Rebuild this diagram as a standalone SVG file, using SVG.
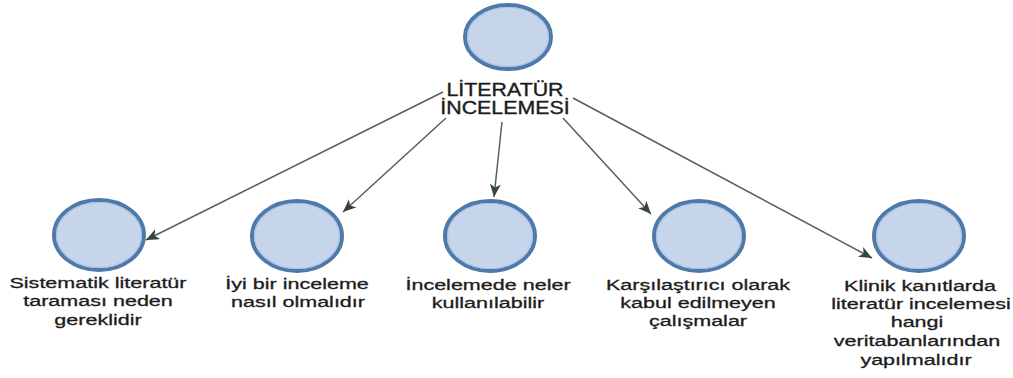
<svg xmlns="http://www.w3.org/2000/svg" width="1013" height="378" viewBox="0 0 1013 378">
<defs>
<style>
.node ellipse.o{fill:#c7d5ea;stroke:#4f79a8;stroke-width:4}
.node ellipse.i{fill:none;stroke:#a9c3e6;stroke-width:1.2}
.lbl{font-family:"Liberation Sans",Arial,sans-serif;font-size:15.5px;fill:#1c1c1c;stroke:#1c1c1c;stroke-width:0.3;text-anchor:middle}
.ttl{font-family:"Liberation Sans",Arial,sans-serif;font-size:17.5px;fill:#1c1c1c;stroke:#1c1c1c;stroke-width:0.35;text-anchor:middle}
.edge{stroke:#55605d;stroke-width:1.5;fill:none;marker-end:url(#arr)}
</style>
<marker id="arr" markerUnits="userSpaceOnUse" markerWidth="14" markerHeight="12" refX="13" refY="5.5" orient="auto">
<path d="M0,0 L13,5.5 L0,11 L3.5,5.5 z" fill="#34443f"/>
</marker>
</defs>
<rect width="1013" height="378" fill="#ffffff"/>
<g id="connectors">
<line class="edge" x1="443" y1="92" x2="146" y2="240"/>
<line class="edge" x1="446" y1="118" x2="343" y2="212"/>
<line class="edge" x1="502" y1="122" x2="494" y2="197"/>
<line class="edge" x1="563" y1="118" x2="651" y2="214"/>
<line class="edge" x1="573" y1="98" x2="872" y2="258"/>
</g>
<g id="node-root" class="node">
<ellipse class="o" cx="508" cy="37" rx="43" ry="32"/>
<ellipse class="i" cx="508" cy="37" rx="40.5" ry="29.5"/>
<text class="ttl" transform="translate(505,0) scale(1.22,1)" x="0" y="96">LİTERATÜR</text>
<text class="ttl" transform="translate(505,0) scale(1.22,1)" x="0" y="114">İNCELEMESİ</text>
</g>
<g id="node-1" class="node">
<ellipse class="o" cx="99" cy="235" rx="45" ry="35"/>
<ellipse class="i" cx="99" cy="235" rx="42.5" ry="32.5"/>
<text class="lbl" transform="translate(98,0) scale(1.39,1)" x="0" y="288">Sistematik literatür</text>
<text class="lbl" transform="translate(98,0) scale(1.39,1)" x="0" y="306">taraması neden</text>
<text class="lbl" transform="translate(98,0) scale(1.39,1)" x="0" y="325">gereklidir</text>
</g>
<g id="node-2" class="node">
<ellipse class="o" cx="297" cy="236" rx="45" ry="35"/>
<ellipse class="i" cx="297" cy="236" rx="42.5" ry="32.5"/>
<text class="lbl" transform="translate(297,0) scale(1.39,1)" x="0" y="289">İyi bir inceleme</text>
<text class="lbl" transform="translate(298,0) scale(1.39,1)" x="0" y="307">nasıl olmalıdır</text>
</g>
<g id="node-3" class="node">
<ellipse class="o" cx="490" cy="236" rx="45" ry="35"/>
<ellipse class="i" cx="490" cy="236" rx="42.5" ry="32.5"/>
<text class="lbl" transform="translate(488,0) scale(1.39,1)" x="0" y="290">İncelemede neler</text>
<text class="lbl" transform="translate(488,0) scale(1.39,1)" x="0" y="308">kullanılabilir</text>
</g>
<g id="node-4" class="node">
<ellipse class="o" cx="699" cy="236" rx="45" ry="35"/>
<ellipse class="i" cx="699" cy="236" rx="42.5" ry="32.5"/>
<text class="lbl" transform="translate(698,0) scale(1.39,1)" x="0" y="290">Karşılaştırıcı olarak</text>
<text class="lbl" transform="translate(698,0) scale(1.39,1)" x="0" y="308">kabul edilmeyen</text>
<text class="lbl" transform="translate(698,0) scale(1.39,1)" x="0" y="326">çalışmalar</text>
</g>
<g id="node-5" class="node">
<ellipse class="o" cx="919" cy="236" rx="45" ry="35"/>
<ellipse class="i" cx="919" cy="236" rx="42.5" ry="32.5"/>
<text class="lbl" transform="translate(920,0) scale(1.39,1)" x="0" y="291">Klinik kanıtlarda</text>
<text class="lbl" transform="translate(921,0) scale(1.39,1)" x="0" y="309">literatür incelemesi</text>
<text class="lbl" transform="translate(917,0) scale(1.39,1)" x="0" y="327">hangi</text>
<text class="lbl" transform="translate(917,0) scale(1.39,1)" x="0" y="346">veritabanlarından</text>
<text class="lbl" transform="translate(916,0) scale(1.39,1)" x="0" y="365">yapılmalıdır</text>
</g>
</svg>
